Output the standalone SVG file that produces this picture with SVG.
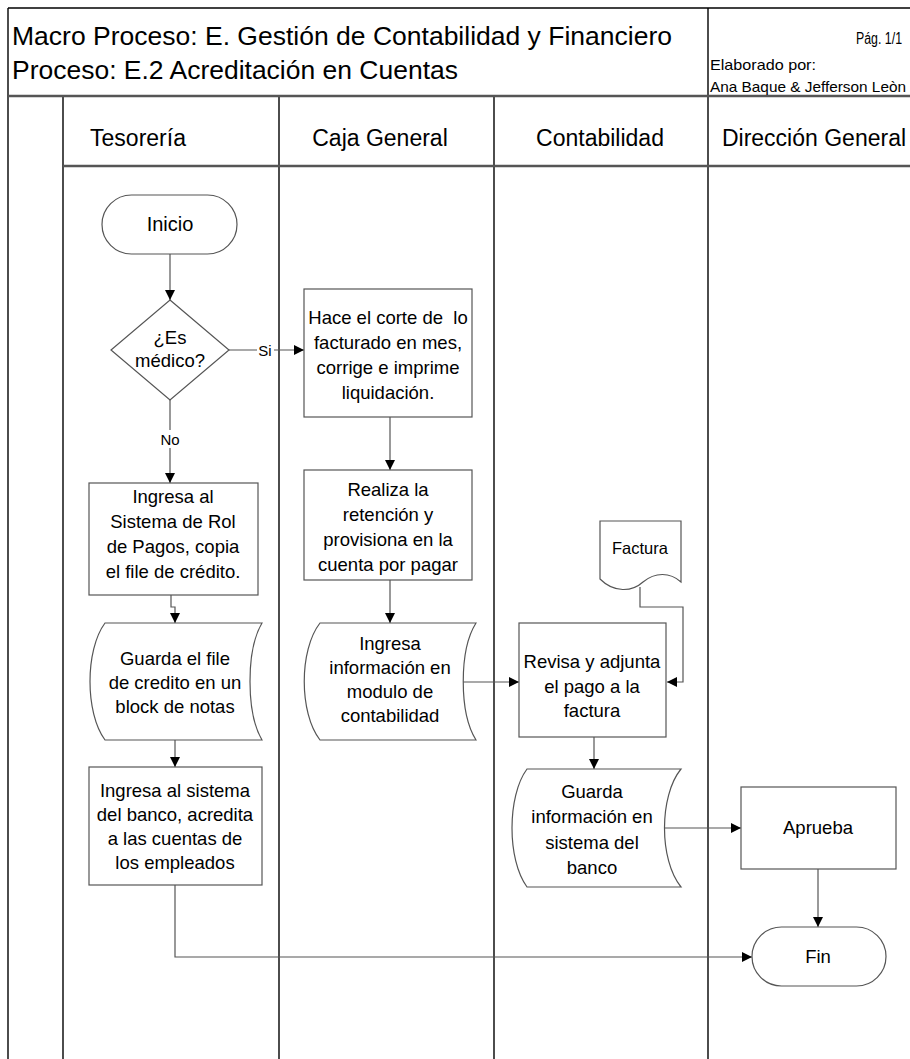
<svg xmlns="http://www.w3.org/2000/svg" width="910" height="1059" viewBox="0 0 910 1059">
<style>
text{font-family:"Liberation Sans",Arial,sans-serif;fill:#000}
.node{fill:#fff;stroke:#555;stroke-width:1.2}
.t{font-size:18.5px;text-anchor:middle}
.lane{stroke:#000;stroke-width:1.4;fill:none}
.hsep{stroke:#555;stroke-width:2.5;fill:none}
.conn{stroke:#555;stroke-width:1.2;fill:none;marker-end:url(#ah)}
.lbl{font-size:15px;text-anchor:middle}
.lh{font-size:23px;text-anchor:middle}
</style>
<defs>
<marker id="ah" viewBox="0 0 10 10" refX="10" refY="5" markerWidth="10" markerHeight="10" markerUnits="userSpaceOnUse" orient="auto">
<path d="M0,0 L10,5 L0,10 Z" fill="#000"/>
</marker>
</defs>
<rect width="910" height="1059" fill="#fff"/>
<g id="frame">
<line class="lane" x1="8" y1="8" x2="910" y2="8"/>
<line class="lane" x1="8" y1="8" x2="8" y2="1059"/>
<line class="lane" x1="708" y1="8" x2="708" y2="1059"/>
<line class="lane" x1="63" y1="96" x2="63" y2="1059"/>
<line class="lane" x1="279" y1="96" x2="279" y2="1059"/>
<line class="lane" x1="494" y1="96" x2="494" y2="1059"/>
<line class="hsep" x1="8" y1="96" x2="910" y2="96"/>
<line class="hsep" x1="63" y1="166" x2="910" y2="166"/>
<text x="12" y="45" font-size="25.5" textLength="660" lengthAdjust="spacingAndGlyphs">Macro Proceso: E. Gestión de Contabilidad y Financiero</text>
<text x="12" y="79" font-size="25.5" textLength="446" lengthAdjust="spacingAndGlyphs">Proceso: E.2 Acreditación en Cuentas</text>
<text x="902" y="44" font-size="16" text-anchor="end" textLength="46" lengthAdjust="spacingAndGlyphs">Pág. 1/1</text>
<text x="710" y="70" font-size="15" textLength="106" lengthAdjust="spacingAndGlyphs">Elaborado por:</text>
<text x="710" y="92" font-size="15" textLength="196" lengthAdjust="spacingAndGlyphs">Ana Baque &amp; Jefferson Leòn</text>
<text class="lh" x="138" y="146">Tesorería</text>
<text class="lh" x="380" y="146">Caja General</text>
<text class="lh" x="600" y="146">Contabilidad</text>
<text class="lh" x="814" y="146">Dirección General</text>
</g>
<g id="connectors">
<path class="conn" d="M170,254 V300"/>
<path class="conn" d="M229,350 H304"/>
<rect x="257" y="341" width="17" height="18" fill="#fff"/>
<text class="lbl" x="265" y="356">Si</text>
<path class="conn" d="M170,400 V483"/>
<rect x="158" y="430" width="24" height="18" fill="#fff"/>
<text class="lbl" x="170" y="445">No</text>
<path class="conn" d="M171,595 V607 H175 V623"/>
<path class="conn" d="M175,740 V767"/>
<path class="conn" d="M175,885 V957 H752"/>
<path class="conn" d="M390,417 V470"/>
<path class="conn" d="M390,580 V623"/>
<path class="conn" d="M463,682 H519"/>
<path class="conn" d="M640,587 V607 H683 V682 H667"/>
<path class="conn" d="M594,737 V769"/>
<path class="conn" d="M665,828 H741"/>
<path class="conn" d="M818,869 V927"/>
</g>
<g id="inicio">
<rect class="node" x="102" y="195" width="135" height="59" rx="29.5"/>
<text x="170" y="231" font-size="20" text-anchor="middle">Inicio</text>
</g>
<g id="es-medico">
<path class="node" d="M170,300 L229,350 L170,400 L111,350 Z"/>
<text class="t" x="170" y="344">¿Es</text>
<text class="t" x="170" y="367">médico?</text>
</g>
<g id="ingresa-rol">
<rect class="node" x="89" y="483" width="169" height="112"/>
<text class="t" x="173" y="503">Ingresa al</text>
<text class="t" x="173" y="528">Sistema de Rol</text>
<text class="t" x="173" y="553">de Pagos, copia</text>
<text class="t" x="173" y="578">el file de crédito.</text>
</g>
<g id="guarda-file">
<path class="node" d="M105,623 H262 C246,650 246,713 262,740 H105 C85,713 85,650 105,623 Z"/>
<text class="t" x="175" y="665">Guarda el file</text>
<text class="t" x="175" y="689">de credito en un</text>
<text class="t" x="175" y="713">block de notas</text>
</g>
<g id="ingresa-banco">
<rect class="node" x="89" y="767" width="173" height="118"/>
<text class="t" x="175" y="797">Ingresa al sistema</text>
<text class="t" x="175" y="821">del banco, acredita</text>
<text class="t" x="175" y="845">a las cuentas de</text>
<text class="t" x="175" y="869">los empleados</text>
</g>
<g id="hace-corte">
<rect class="node" x="304" y="289" width="168" height="128"/>
<text class="t" x="388" y="324" style="white-space:pre">Hace el corte de  lo</text>
<text class="t" x="388" y="349">facturado en mes,</text>
<text class="t" x="388" y="374">corrige e imprime</text>
<text class="t" x="388" y="399">liquidación.</text>
</g>
<g id="realiza-retencion">
<rect class="node" x="304" y="470" width="168" height="110"/>
<text class="t" x="388" y="496">Realiza la</text>
<text class="t" x="388" y="521">retención y</text>
<text class="t" x="388" y="546">provisiona en la</text>
<text class="t" x="388" y="571">cuenta por pagar</text>
</g>
<g id="ingresa-contabilidad">
<path class="node" d="M320,623 H476 C459,650 459,713 476,740 H320 C299,713 299,650 320,623 Z"/>
<text class="t" x="390" y="650">Ingresa</text>
<text class="t" x="390" y="674">información en</text>
<text class="t" x="390" y="698">modulo de</text>
<text class="t" x="390" y="722">contabilidad</text>
</g>
<g id="factura">
<path class="node" d="M600,521 H681 V582 C670,572 655,572 643,582 C632,592 614,593 600,579 Z"/>
<text x="640" y="554" font-size="16.5" text-anchor="middle">Factura</text>
</g>
<g id="revisa">
<rect class="node" x="519" y="623" width="147" height="114"/>
<text class="t" x="592" y="668">Revisa y adjunta</text>
<text class="t" x="592" y="693">el pago a la</text>
<text class="t" x="592" y="717">factura</text>
</g>
<g id="guarda-banco">
<path class="node" d="M527,769 H681 C659,796 659,860 681,887 H527 C507,860 507,796 527,769 Z"/>
<text class="t" x="592" y="798">Guarda</text>
<text class="t" x="592" y="823">información en</text>
<text class="t" x="592" y="849">sistema del</text>
<text class="t" x="592" y="874">banco</text>
</g>
<g id="aprueba">
<rect class="node" x="741" y="787" width="155" height="82"/>
<text class="t" x="818" y="834">Aprueba</text>
</g>
<g id="fin">
<rect class="node" x="752" y="927" width="134" height="59" rx="29.5"/>
<text class="t" x="818" y="963">Fin</text>
</g>
</svg>
